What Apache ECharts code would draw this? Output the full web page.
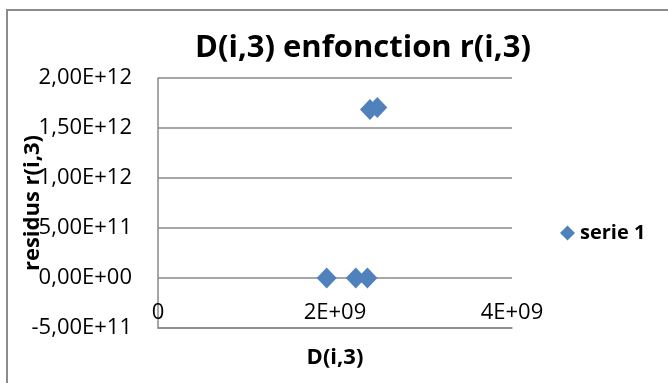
<!DOCTYPE html>
<html>
<head>
<meta charset="utf-8">
<script src="https://cdn.jsdelivr.net/npm/echarts@6/dist/echarts.min.js"></script>
<style>
  html, body { margin: 0; padding: 0; background: #ffffff; }
  #chart { width: 668px; height: 383px; }
</style>
</head>
<body>
<div id="chart"></div>
<script>
// Residuals r(i,3) plotted against D(i,3)
const seriesName = 'serie 1';
const dValues = [1.906e9, 2.235e9, 2.366e9, 2.395e9, 2.478e9];
const residuals = [0, 0, 0, 1.685e12, 1.705e12];

// Tick labels in the French scientific notation
const xTickValues = [0, 2e9, 4e9];
const xTickLabels = ['0', '2E+09', '4E+09'];
const yTickValues = [-5e11, 0, 5e11, 1e12, 1.5e12, 2e12];
const yTickLabels = ['-5,00E+11', '0,00E+00', '5,00E+11', '1,00E+12', '1,50E+12', '2,00E+12'];

function lookup(values, labels, v) {
  for (let i = 0; i < values.length; i++) {
    if (Math.abs(values[i] - v) < 1) return labels[i];
  }
  return '';
}

const points = dValues.map((d, i) => [d, residuals[i]]);

const FONT = '"Open Sans", "Noto Sans", sans-serif';
const GRID_COLOR = '#888888';

const chart = echarts.init(document.getElementById('chart'), null, { renderer: 'canvas' });
chart.setOption({
  animation: false,
  backgroundColor: '#ffffff',
  title: {
    text: 'D(i,3) enfonction r(i,3)',
    left: 190,
    top: 28,
    textStyle: { fontFamily: FONT, fontSize: 31, fontWeight: 'bold', color: '#000000' }
  },
  legend: {
    data: [{ name: seriesName, icon: 'diamond' }],
    orient: 'vertical',
    left: 555,
    top: 218,
    itemWidth: 15,
    itemHeight: 15,
    itemGap: 6,
    textStyle: { fontFamily: FONT, fontSize: 20, fontWeight: 'bold', color: '#000000' }
  },
  grid: {
    left: 158, top: 78, width: 354, height: 250,
    containLabel: false,
    outerBoundsMode: 'none'
  },
  xAxis: {
    type: 'value',
    min: 0,
    max: 4e9,
    interval: 2e9,
    name: 'D(i,3)',
    nameLocation: 'middle',
    nameGap: 18,
    nameMoveOverlap: false,
    nameTextStyle: { fontFamily: FONT, fontSize: 22, fontWeight: 'bold', color: '#000000', lineHeight: 24 },
    axisLine: { show: true, onZero: false, lineStyle: { color: GRID_COLOR, width: 1.5 } },
    axisTick: { show: false },
    splitLine: { show: false },
    axisLabel: {
      inside: true,
      margin: 4,
      fontFamily: FONT,
      fontSize: 22,
      color: '#000000',
      formatter: v => lookup(xTickValues, xTickLabels, v)
    }
  },
  yAxis: {
    type: 'value',
    min: -5e11,
    max: 2e12,
    interval: 5e11,
    name: 'residus r(i,3)',
    nameLocation: 'middle',
    nameGap: 114,
    nameMoveOverlap: false,
    nameTextStyle: { fontFamily: FONT, fontSize: 22, fontWeight: 'bold', color: '#000000' },
    axisLine: { show: true, lineStyle: { color: GRID_COLOR, width: 1.5 } },
    axisTick: { show: false },
    splitLine: { show: true, lineStyle: { color: GRID_COLOR, width: 1.5 } },
    axisLabel: {
      margin: 26,
      fontFamily: FONT,
      fontSize: 22,
      color: '#000000',
      formatter: v => lookup(yTickValues, yTickLabels, v)
    }
  },
  graphic: [{
    type: 'rect',
    shape: { x: 7, y: 10, width: 700, height: 400 },
    style: { fill: null, stroke: '#8c8c8c', lineWidth: 2 },
    silent: true,
    z: 100
  }],
  series: [{
    name: seriesName,
    type: 'scatter',
    data: points,
    symbol: 'diamond',
    symbolSize: [20, 21],
    itemStyle: { color: '#4f81bd', opacity: 1 }
  }]
});
</script>
</body>
</html>
